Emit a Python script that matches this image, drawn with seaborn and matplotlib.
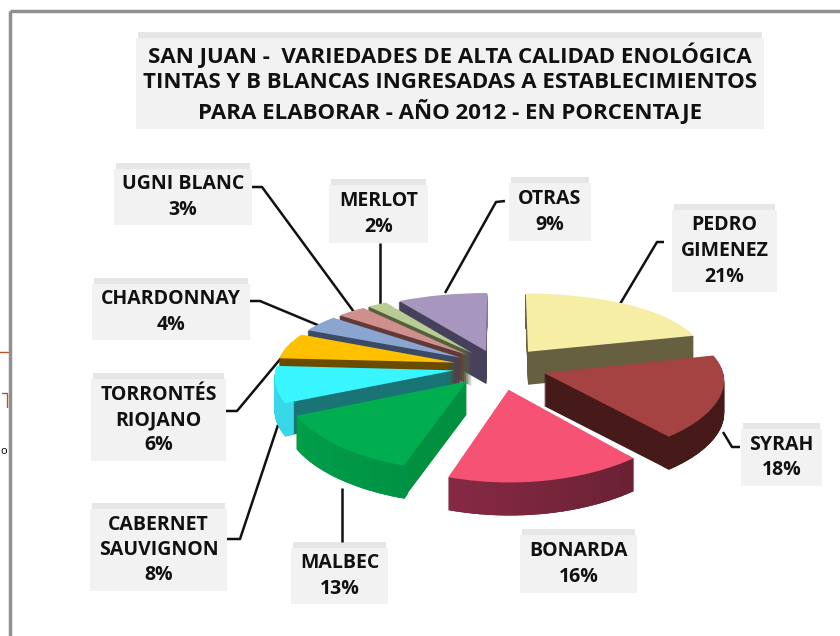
import numpy as np
import matplotlib
matplotlib.use("Agg")
import matplotlib.pyplot as plt
import matplotlib.transforms as mtrans
from matplotlib.colors import to_rgb
from matplotlib.patches import Rectangle, Wedge
import seaborn as sns

# values, clockwise from 12 o'clock
varieties = ["PEDRO\nGIMENEZ", "SYRAH", "BONARDA", "MALBEC", "CABERNET\nSAUVIGNON",
             "TORRONTÉS\nRIOJANO", "CHARDONNAY", "UGNI BLANC", "MERLOT", "OTRAS"]
shares = [21, 18, 16, 13, 8, 6, 4, 3, 2, 9]
explode = [0.28, 0.27, 0.31, 0.26, 0.25, 0.25, 0.25, 0.25, 0.25, 0.24]

top_colors = ["#f7eea6", "#a54242", "#f55274", "#00ad4f", "#38f5ff",
              "#ffc000", "#8aa5d0", "#cf8f8d", "#b8cc94", "#a797bf"]
cut_colors = ["#666040", "#451a18", "#601e2e", "#009040", "#1a7375",
              "#6a4c00", "#3d4a66", "#5f3a38", "#55603c", "#47405a"]
rim_left = ["#666040", "#451a18", "#9b3050", "#00a04a", "#38d8e8",
            "#6a4c00", "#3d4a66", "#5f3a38", "#55603c", "#47405a"]
rim_right = ["#666040", "#451a18", "#601e2e", "#00783a", "#38d8e8",
             "#6a4c00", "#3d4a66", "#5f3a38", "#55603c", "#47405a"]
# back to front
draw_order = [9, 8, 7, 6, 5, 4, 0, 1, 3, 2]

title = ("SAN JUAN -  VARIEDADES DE ALTA CALIDAD ENOLÓGICA\n"
         "TINTAS Y B BLANCAS INGRESADAS A ESTABLECIMIENTOS\n"
         "PARA ELABORAR - AÑO 2012 - EN PORCENTAJE")

# x0, x1, y0, y1 of the label boxes
boxes = [(672, 777, 204, 292), (741, 822, 423, 486), (520, 637, 529, 593),
         (291, 388, 542, 604), (90, 227, 503, 591), (91, 226, 373, 461),
         (92, 250, 278, 340), (114, 252, 163, 225), (329, 428, 179, 243),
         (509, 591, 177, 241)]
leaders = [[(664, 242), (657, 242), (620, 304)],
           [(723, 432), (732, 447), (740, 447)],
           None,
           [(342, 488), (342, 542)],
           [(227, 539), (240, 539), (278, 425)],
           [(226, 411), (237, 411), (287, 351)],
           [(250, 301), (260, 301), (320, 326)],
           [(252, 187), (262, 187), (354, 312)],
           [(380, 243), (380, 305)],
           [(505, 201), (496, 202), (445, 293)]]

CX, CY, RAD, TILT, PERSP_X, PERSP_Y, DEPTH = 498, 367, 178, 0.40, 0.08, 0.15, 33


class Tilt(mtrans.Transform):
    # lays the flat pie down on a plane seen from the front
    input_dims = 2
    output_dims = 2

    def transform_non_affine(self, values):
        pts = np.asarray(values, dtype=float)
        sx = 1 / (1 + PERSP_X * pts[:, 1])
        sy = 1 / (1 + PERSP_Y * pts[:, 1])
        return np.column_stack([CX + RAD * pts[:, 0] * sx,
                                CY - RAD * TILT * pts[:, 1] * sy])

    def inverted(self):
        raise NotImplementedError


sns.set_theme(style="white")
plt.rcParams["font.family"] = ["Open Sans", "DejaVu Sans"]

fig = plt.figure(figsize=(8.4, 6.36), dpi=100)
ax = fig.add_axes([0, 0, 1, 1])
wedges, _ = ax.pie(shares, explode=explode, colors=sns.color_palette(top_colors),
                   startangle=90, counterclock=False, radius=1,
                   wedgeprops={"linewidth": 0})
ax.set_aspect("auto")
ax.set_xlim(0, 840)
ax.set_ylim(636, 0)
ax.axis("off")

tilt = Tilt()
for rank, i in enumerate(draw_order):
    w = wedges[i]
    base_z = 3 + rank
    w.set_transform(tilt + ax.transData)
    w.set_zorder(base_z + 0.9)
    c1, c2 = np.array(to_rgb(rim_left[i])), np.array(to_rgb(rim_right[i]))
    edges = np.linspace(w.theta1, w.theta2, 25)
    for d in range(DEPTH, 0, -1):
        layer_tr = tilt + mtrans.Affine2D().translate(0, d) + ax.transData
        ax.add_patch(Wedge(w.center, w.r, w.theta1, w.theta2, fc=cut_colors[i], lw=0,
                           transform=layer_tr, zorder=base_z))
        for j in range(len(edges) - 1):
            mid = (edges[j] + edges[j + 1]) / 2
            # colour runs left to right across the rim
            frac = (np.cos(np.radians(mid)) + 1) / 2
            col = c1 + (c2 - c1) * frac
            ax.add_patch(Wedge(w.center, w.r, edges[j], edges[j + 1] + 0.3, width=0.05,
                               fc=col, lw=0, transform=layer_tr, zorder=base_z + 0.1))

# chart frame and the bits of the sheet behind it
ax.add_patch(Rectangle((9.5, 11), 840, 640, fc="none", ec="#909090", lw=2.5, zorder=1))
ax.plot([0, 8], [352, 352], color="#b5552a", lw=1, zorder=1)
ax.plot([2, 7, 7], [393, 393, 407], color="#b5552a", lw=1, zorder=1)
ax.text(3.5, 451, "o", fontsize=8, va="center", ha="center", color="black", zorder=1)

# title
ax.add_patch(Rectangle((136, 38), 628, 91, fc="#f2f2f2", lw=0, zorder=1))
ax.add_patch(Rectangle((138, 32), 624, 6, fc="#e6e6e6", lw=0, zorder=1))
for line, y in zip(title.split("\n"), [55, 83, 112]):
    ax.text(450, y, line, fontsize=16, fontweight="bold", color="#111111",
            ha="center", va="center", zorder=20)

# labels
for i, name in enumerate(varieties):
    x0, x1, y0, y1 = boxes[i]
    ax.add_patch(Rectangle((x0, y0 + 6), x1 - x0, y1 - y0 - 6, fc="#f2f2f2", lw=0, zorder=1))
    ax.add_patch(Rectangle((x0 + 2, y0), x1 - x0 - 4, 6, fc="#e6e6e6", lw=0, zorder=1))
    rows = name.split("\n") + [f"{shares[i]}%"]
    mid_y = (y0 + 6 + y1) / 2
    for k, row in enumerate(rows):
        ax.text((x0 + x1) / 2, mid_y + (k - (len(rows) - 1) / 2) * 25.5, row, fontsize=14,
                fontweight="bold", color="#111111", ha="center", va="center", zorder=20)
    if leaders[i]:
        xs, ys = zip(*leaders[i])
        ax.plot(xs, ys, color="#111111", lw=1.8, zorder=2, solid_capstyle="butt")

fig.savefig("out.png", dpi=100)
